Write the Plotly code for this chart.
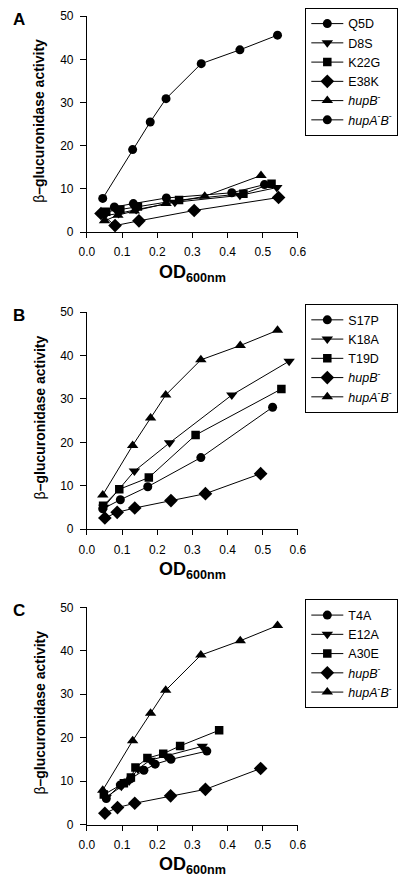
import plotly.graph_objects as go

W, H = 415, 883
FONT = "Liberation Sans, Arial, sans-serif"

# ---------------- Panel A ----------------
a_names = ["Q5D", "D8S", "K22G", "E38K", "<i>hupB</i><sup>-</sup>", "<i>hupA</i><sup>-</sup><i>B</i><sup>-</sup>"]
a_symbols = ["circle", "triangle-down", "square", "diamond", "triangle-up", "circle"]
a_x = [
    [0.045, 0.078, 0.132, 0.226, 0.412, 0.505],
    [0.05, 0.09, 0.14, 0.25, 0.435, 0.54],
    [0.055, 0.095, 0.145, 0.262, 0.445, 0.525],
    [0.04, 0.08, 0.148, 0.305, 0.545],
    [0.05, 0.088, 0.135, 0.225, 0.335, 0.495],
    [0.045, 0.13, 0.18, 0.225, 0.325, 0.435, 0.542],
]
a_y = [
    [4.4, 5.8, 6.6, 7.9, 9.1, 11.0],
    [3.8, 4.3, 5.2, 6.9, 8.5, 10.3],
    [4.7, 5.2, 5.9, 7.4, 8.9, 11.2],
    [4.3, 1.5, 2.6, 5.0, 8.0],
    [2.6, 3.9, 4.9, 6.6, 8.3, 13.1],
    [7.8, 19.1, 25.5, 30.9, 39.0, 42.2, 45.6],
]

# ---------------- Panel B ----------------
b_names = ["S17P", "K18A", "T19D", "<i>hupB</i><sup>-</sup>", "<i>hupA</i><sup>-</sup><i>B</i><sup>-</sup>"]
b_symbols = ["circle", "triangle-down", "square", "diamond", "triangle-up"]
b_x = [
    [0.045, 0.095, 0.173, 0.324, 0.528],
    [0.048, 0.135, 0.235, 0.412, 0.575],
    [0.046, 0.092, 0.176, 0.309, 0.553],
    [0.051, 0.086, 0.136, 0.239, 0.337, 0.494],
    [0.045, 0.13, 0.181, 0.224, 0.324, 0.436, 0.542],
]
b_y = [
    [4.7, 6.8, 9.8, 16.5, 28.1],
    [5.1, 13.4, 19.9, 30.9, 38.7],
    [5.4, 9.2, 11.9, 21.7, 32.3],
    [2.6, 3.9, 4.9, 6.6, 8.2, 12.8],
    [7.9, 19.3, 25.6, 30.9, 39.0, 42.3, 45.8],
]

# ---------------- Panel C ----------------
c_names = ["T4A", "E12A", "A30E", "<i>hupB</i><sup>-</sup>", "<i>hupA</i><sup>-</sup><i>B</i><sup>-</sup>"]
c_symbols = ["circle", "triangle-down", "square", "diamond", "triangle-up"]
c_x = [
    [0.055, 0.095, 0.124, 0.162, 0.194, 0.239, 0.341],
    [0.055, 0.098, 0.12, 0.145, 0.18, 0.225, 0.328],
    [0.048, 0.105, 0.125, 0.138, 0.172, 0.217, 0.265, 0.376],
    [0.051, 0.087, 0.136, 0.238, 0.337, 0.494],
    [0.045, 0.13, 0.181, 0.224, 0.324, 0.436, 0.542],
]
c_y = [
    [6.0, 9.1, 10.5, 12.5, 13.9, 15.0, 16.9],
    [6.3, 8.8, 10.0, 12.8, 14.8, 15.8, 18.0],
    [6.9, 9.5, 10.8, 13.1, 15.3, 16.3, 18.1, 21.7],
    [2.6, 3.9, 4.9, 6.6, 8.1, 12.9],
    [7.9, 19.3, 25.6, 30.9, 39.0, 42.3, 45.8],
]

x_ticks = [0.0, 0.1, 0.2, 0.3, 0.4, 0.5, 0.6]
x_ticklabels = ["0.0", "0.1", "0.2", "0.3", "0.4", "0.5", "0.6"]
y_ticks = [0, 10, 20, 30, 40, 50]
y_ticklabels = ["0", "10", "20", "30", "40", "50"]
panel_letters = ["A", "B", "C"]

msize = {"circle": 9, "triangle-down": 10, "square": 8.5, "diamond": 10.5, "triangle-up": 10}

# pixel geometry of each panel (top, bottom of plotting area, legend top)
panels = [(9.3, 228.7, 1.0), (310.0, 530.7, 302.0), (610.0, 830.7, 602.0)]
x_left, x_right = 82.3, 302.3

fig = go.Figure()
datasets = [(a_names, a_symbols, a_x, a_y), (b_names, b_symbols, b_x, b_y), (c_names, c_symbols, c_x, c_y)]
for i, (names, syms, xs, ys) in enumerate(datasets):
    suffix = "" if i == 0 else str(i + 1)
    for n, s, xv, yv in zip(names, syms, xs, ys):
        fig.add_trace(go.Scatter(
            x=xv, y=yv, name=n, mode="lines+markers",
            line=dict(color="black", width=1),
            marker=dict(symbol=s, size=msize[s], color="black"),
            xaxis="x" + suffix, yaxis="y" + suffix,
            legend="legend" + suffix,
        ))

layout = dict(
    width=W, height=H, autosize=False,
    margin=dict(l=0, r=0, t=0, b=0),
    paper_bgcolor="white", plot_bgcolor="white",
    font=dict(family=FONT, color="black", size=12),
    annotations=[],
)

for i, (top, bot, legtop) in enumerate(panels):
    suffix = "" if i == 0 else str(i + 1)
    dom_y = [1 - bot / H, 1 - top / H]
    layout["xaxis" + suffix] = dict(
        domain=[x_left / W, x_right / W], range=[0, 0.6], anchor="y" + suffix,
        tickvals=x_ticks, ticktext=x_ticklabels, ticks="outside", ticklen=5,
        tickcolor="black", showline=True, linecolor="black", linewidth=1,
        showgrid=False, zeroline=False, tickfont=dict(size=12, family=FONT),
        ticklabelstandoff=4, fixedrange=True,
    )
    layout["yaxis" + suffix] = dict(
        domain=dom_y, range=[0, 50], anchor="x" + suffix,
        tickvals=y_ticks, ticktext=y_ticklabels, ticks="outside", ticklen=6,
        tickcolor="black", showline=True, linecolor="black", linewidth=1,
        showgrid=False, zeroline=False, tickfont=dict(size=12, family=FONT),
        ticklabelstandoff=4, fixedrange=True,
    )
    layout["legend" + suffix] = dict(
        x=310 / W, y=1 - legtop / H, xanchor="left", yanchor="top",
        bordercolor="black", borderwidth=1, bgcolor="white",
        font=dict(size=12.5, family=FONT), tracegroupgap=0, itemwidth=32,
    )
    # panel letter
    layout["annotations"].append(dict(
        text="<b>%s</b>" % panel_letters[i], x=3 / W, y=1 - (top + 3) / H,
        xref="paper", yref="paper", xanchor="left", yanchor="middle",
        showarrow=False, font=dict(size=17, family=FONT),
    ))
    # y axis title
    layout["annotations"].append(dict(
        text="β<b>–glucuronidase activity</b>", x=33 / W, y=1 - ((top + bot) / 2 - 3) / H,
        xref="paper", yref="paper", xanchor="center", yanchor="middle",
        textangle=-90, showarrow=False, font=dict(size=14, family=FONT),
    ))
    # x axis title
    layout["annotations"].append(dict(
        text="<b>OD<sub>600nm</sub></b>", x=(x_left + x_right) / 2 / W, y=1 - (bot + 42) / H,
        xref="paper", yref="paper", xanchor="center", yanchor="middle",
        showarrow=False, font=dict(size=18, family=FONT),
    ))

fig.update_layout(**layout)
fig.write_html(
    "out.html",
    config={"displayModeBar": False, "staticPlot": True},
    post_script="document.body.style.margin='0';document.body.style.overflow='hidden';",
)
